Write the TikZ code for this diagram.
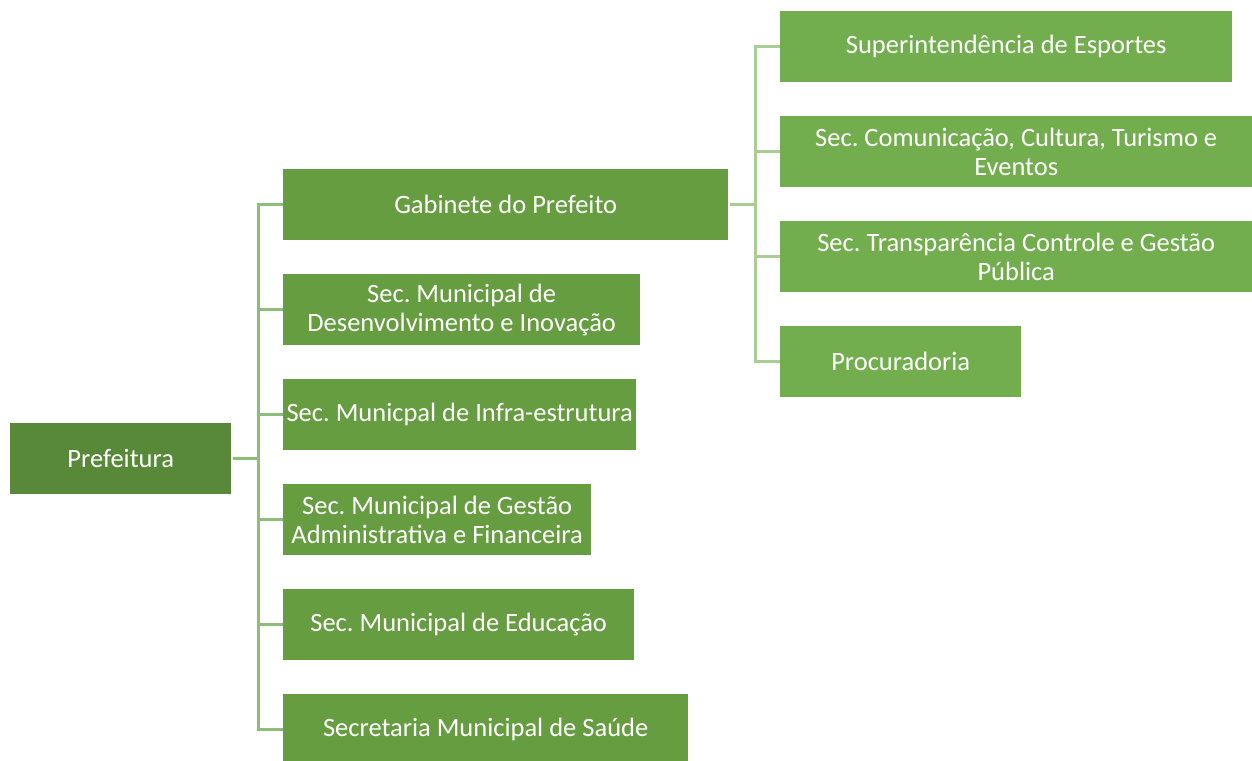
\documentclass[tikz,border=0pt]{standalone}
\usepackage{fontspec}
\setmainfont{Carlito}
\usepackage{xcolor}
\definecolor{topgreen}{HTML}{588938}
\definecolor{midgreen}{HTML}{669D41}
\definecolor{leafgreen}{HTML}{73AE4E}
\definecolor{linkgreen}{HTML}{8CBE78}
\definecolor{palegreen}{HTML}{AACD96}
\frenchspacing

\begin{document}
\begin{tikzpicture}[x=1pt,y=1pt,
  box/.style={anchor=north west,inner sep=0pt,minimum height=71pt,text=white,align=center,font=\fontsize{26.5}{29}\selectfont},
  link/.style={draw=linkgreen,line width=3pt},
  sublink/.style={draw=palegreen,line width=2.5pt}]
  \useasboundingbox (0,0) rectangle (1252,-760);
  \clip (0,0) rectangle (1252,-760);
  \fill[white] (0,0) rectangle (1252,-760);

  \node[box,fill=topgreen,minimum width=221pt] (pref) at (10,-423) {Prefeitura};

  \node[box,fill=midgreen,minimum width=445pt] (gab) at (283,-169) {Gabinete do Prefeito};
  \node[box,fill=midgreen,minimum width=357pt] (desenv) at (283,-274) {Sec. Municipal de\\Desenvolvimento e Inovação};
  \node[box,fill=midgreen,minimum width=353pt] (infra) at (283,-379) {Sec. Municpal de Infra-estrutura};
  \node[box,fill=midgreen,minimum width=308pt] (gestao) at (283,-484) {Sec. Municipal de Gestão\\Administrativa e Financeira};
  \node[box,fill=midgreen,minimum width=351pt] (educ) at (283,-589) {Sec. Municipal de Educação};
  \node[box,fill=midgreen,minimum width=405pt] (saude) at (283,-694) {Secretaria Municipal de Saúde};

  \node[box,fill=leafgreen,minimum width=452pt] (esport) at (780,-11) {Superintendência de Esportes};
  \node[box,fill=leafgreen,minimum width=472pt] (comun) at (780,-116) {Sec. Comunicação, Cultura, Turismo e\\Eventos};
  \node[box,fill=leafgreen,minimum width=472pt] (transp) at (780,-221) {Sec. Transparência Controle e Gestão\\Pública};
  \node[box,fill=leafgreen,minimum width=241pt] (procur) at (780,-326) {Procuradoria};

  \foreach \kid in {gab,desenv,infra,gestao,educ,saude}
    \draw[link] ([xshift=2pt]pref.east) -- ++(25,0) |- (\kid.west);
  \foreach \kid in {esport,comun,transp,procur}
    \draw[sublink] ([xshift=2pt]gab.east) -- ++(25,0) |- (\kid.west);
\end{tikzpicture}
\end{document}
